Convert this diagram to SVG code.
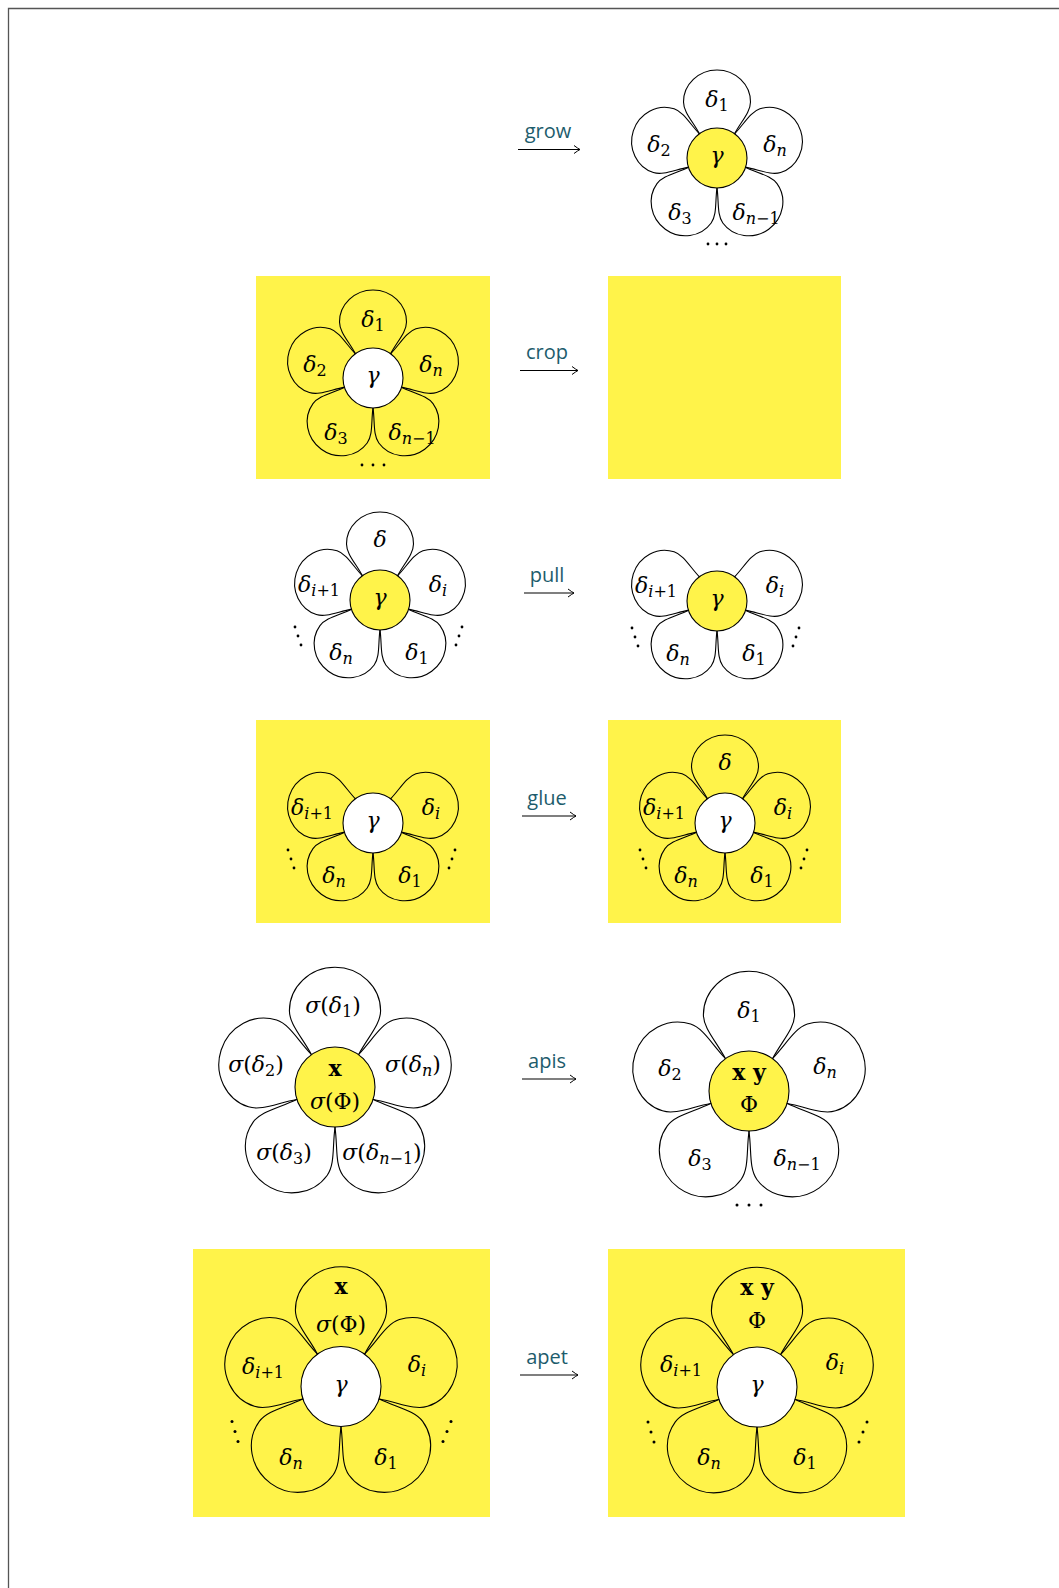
<svg xmlns="http://www.w3.org/2000/svg" xmlns:xlink="http://www.w3.org/1999/xlink" width="1059" height="1588" viewBox="0 0 1059 1588">
<style>
.bg{fill:#fff34a}
.pet{fill:none;stroke:#000;stroke-width:1.1}
.cy{fill:#fff34a;stroke:#000;stroke-width:1.1}
.cw{fill:#fff;stroke:#000;stroke-width:1.1}
.m{font-family:"DejaVu Serif",serif;font-style:italic;font-size:22px;fill:#000;text-anchor:middle}
.s{font-size:16px;font-style:normal}
.si{font-size:16px;font-style:italic}
.u{font-style:normal}
.b{font-style:normal;font-weight:bold}
.lbl{font-family:"Open Sans","Liberation Sans",sans-serif;font-size:20px;fill:#1d5c6c;text-anchor:middle}
.arr{stroke:#000;stroke-width:1.1;fill:none;marker-end:url(#to)}
.dot{fill:#000}
</style>
<defs>
<path id="ps" d="M-8.8 0L23.95 -17.4C36.3 -24 46 -33.5 56 -33.5C73.5 -33.5 88 -18.5 88 0C88 18.5 73.5 33.5 56 33.5C46 33.5 36.3 24 23.95 17.4Z"/>
<path id="pl" d="M-12 0L32.6 -23.7C49.4 -32.6 62.6 -45.6 76.2 -45.6C100 -45.6 119.7 -25.2 119.7 0C119.7 25.2 100 45.6 76.2 45.6C62.6 45.6 49.4 32.6 32.6 23.7Z"/>
<marker id="to" viewBox="0 0 8 10" refX="7" refY="5" markerWidth="8" markerHeight="10" markerUnits="userSpaceOnUse" orient="auto">
<path d="M1 1Q5 4 7 5Q5 6 1 9" fill="none" stroke="#000" stroke-width="1"/>
</marker>
<g id="sdotsL"><circle cx="-85" cy="27" r="1.4"/><circle cx="-82" cy="36" r="1.4"/><circle cx="-79" cy="45" r="1.4"/></g>
<g id="sdotsR"><circle cx="82" cy="27" r="1.4"/><circle cx="79" cy="36" r="1.4"/><circle cx="76" cy="45" r="1.4"/></g>
<g id="ldotsL"><circle cx="-109" cy="35" r="1.5"/><circle cx="-106" cy="45" r="1.5"/><circle cx="-103" cy="55" r="1.5"/></g>
<g id="ldotsR"><circle cx="110" cy="35" r="1.5"/><circle cx="106" cy="45" r="1.5"/><circle cx="102" cy="55" r="1.5"/></g>
</defs>

<path d="M8.5 1588V8.5H1059" fill="none" stroke="#555" stroke-width="1.3"/>

<g id="connectors">
<path class="arr" d="M518 149.5H580"/>
<text class="lbl" x="548" y="138">grow</text>
<path class="arr" d="M520 370.5H578"/>
<text class="lbl" x="547" y="359">crop</text>
<path class="arr" d="M524 593H574"/>
<text class="lbl" x="547" y="582">pull</text>
<path class="arr" d="M522 816H576"/>
<text class="lbl" x="547" y="805">glue</text>
<path class="arr" d="M522 1079H576"/>
<text class="lbl" x="547" y="1068">apis</text>
<path class="arr" d="M520 1375H578"/>
<text class="lbl" x="547" y="1364">apet</text>
</g>

<g id="grow-target" transform="translate(717,158)">
<use xlink:href="#ps" class="pet" transform="rotate(-90)"/>
<use xlink:href="#ps" class="pet" transform="rotate(-162)"/>
<use xlink:href="#ps" class="pet" transform="rotate(-18)"/>
<use xlink:href="#ps" class="pet" transform="rotate(126)"/>
<use xlink:href="#ps" class="pet" transform="rotate(54)"/>
<circle class="cy" r="30"/>
<text class="m" y="5">γ</text>
<text class="m" x="0" y="-51">δ<tspan class="s" dy="4">1</tspan></text>
<text class="m" x="-58" y="-6">δ<tspan class="s" dy="4">2</tspan></text>
<text class="m" x="58" y="-6">δ<tspan class="si" dy="4">n</tspan></text>
<text class="m" x="-37" y="62">δ<tspan class="s" dy="4">3</tspan></text>
<text class="m" x="39" y="62">δ<tspan class="si" dy="4">n</tspan><tspan class="s">−1</tspan></text>
<g class="dot"><circle cx="-9" cy="86" r="1.4"/><circle cx="0" cy="86" r="1.4"/><circle cx="9" cy="86" r="1.4"/></g>
</g>

<g id="crop-source">
<rect class="bg" x="256" y="276" width="234" height="203"/>
<g transform="translate(373,378)">
<use xlink:href="#ps" class="pet" transform="rotate(-90)"/>
<use xlink:href="#ps" class="pet" transform="rotate(-162)"/>
<use xlink:href="#ps" class="pet" transform="rotate(-18)"/>
<use xlink:href="#ps" class="pet" transform="rotate(126)"/>
<use xlink:href="#ps" class="pet" transform="rotate(54)"/>
<circle class="cw" r="30"/>
<text class="m" y="5">γ</text>
<text class="m" x="0" y="-51">δ<tspan class="s" dy="4">1</tspan></text>
<text class="m" x="-58" y="-6">δ<tspan class="s" dy="4">2</tspan></text>
<text class="m" x="58" y="-6">δ<tspan class="si" dy="4">n</tspan></text>
<text class="m" x="-37" y="62">δ<tspan class="s" dy="4">3</tspan></text>
<text class="m" x="39" y="62">δ<tspan class="si" dy="4">n</tspan><tspan class="s">−1</tspan></text>
<g class="dot"><circle cx="-11" cy="87" r="1.4"/><circle cx="0" cy="87" r="1.4"/><circle cx="11" cy="87" r="1.4"/></g>
</g>
</g>

<g id="crop-target">
<rect class="bg" x="608" y="276" width="233" height="203"/>
</g>

<g id="pull-source" transform="translate(380,600)">
<use xlink:href="#ps" class="pet" transform="rotate(-90)"/>
<use xlink:href="#ps" class="pet" transform="rotate(-162)"/>
<use xlink:href="#ps" class="pet" transform="rotate(-18)"/>
<use xlink:href="#ps" class="pet" transform="rotate(126)"/>
<use xlink:href="#ps" class="pet" transform="rotate(54)"/>
<circle class="cy" r="30"/>
<text class="m" y="5">γ</text>
<text class="m" x="0" y="-53">δ</text>
<text class="m" x="-61" y="-8">δ<tspan class="si" dy="4">i</tspan><tspan class="s">+1</tspan></text>
<text class="m" x="58" y="-8">δ<tspan class="si" dy="4">i</tspan></text>
<text class="m" x="-39" y="60">δ<tspan class="si" dy="4">n</tspan></text>
<text class="m" x="37" y="60">δ<tspan class="s" dy="4">1</tspan></text>
<use xlink:href="#sdotsL" class="dot"/><use xlink:href="#sdotsR" class="dot"/>
</g>

<g id="pull-target" transform="translate(717,601)">
<use xlink:href="#ps" class="pet" transform="rotate(-162)"/>
<use xlink:href="#ps" class="pet" transform="rotate(-18)"/>
<use xlink:href="#ps" class="pet" transform="rotate(126)"/>
<use xlink:href="#ps" class="pet" transform="rotate(54)"/>
<circle class="cy" r="30"/>
<text class="m" y="5">γ</text>
<text class="m" x="-61" y="-8">δ<tspan class="si" dy="4">i</tspan><tspan class="s">+1</tspan></text>
<text class="m" x="58" y="-8">δ<tspan class="si" dy="4">i</tspan></text>
<text class="m" x="-39" y="60">δ<tspan class="si" dy="4">n</tspan></text>
<text class="m" x="37" y="60">δ<tspan class="s" dy="4">1</tspan></text>
<use xlink:href="#sdotsL" class="dot"/><use xlink:href="#sdotsR" class="dot"/>
</g>

<g id="glue-source">
<rect class="bg" x="256" y="720" width="234" height="203"/>
<g transform="translate(373,823)">
<use xlink:href="#ps" class="pet" transform="rotate(-162)"/>
<use xlink:href="#ps" class="pet" transform="rotate(-18)"/>
<use xlink:href="#ps" class="pet" transform="rotate(126)"/>
<use xlink:href="#ps" class="pet" transform="rotate(54)"/>
<circle class="cw" r="30"/>
<text class="m" y="5">γ</text>
<text class="m" x="-61" y="-8">δ<tspan class="si" dy="4">i</tspan><tspan class="s">+1</tspan></text>
<text class="m" x="58" y="-8">δ<tspan class="si" dy="4">i</tspan></text>
<text class="m" x="-39" y="60">δ<tspan class="si" dy="4">n</tspan></text>
<text class="m" x="37" y="60">δ<tspan class="s" dy="4">1</tspan></text>
<use xlink:href="#sdotsL" class="dot"/><use xlink:href="#sdotsR" class="dot"/>
</g>
</g>

<g id="glue-target">
<rect class="bg" x="608" y="720" width="233" height="203"/>
<g transform="translate(725,823)">
<use xlink:href="#ps" class="pet" transform="rotate(-90)"/>
<use xlink:href="#ps" class="pet" transform="rotate(-162)"/>
<use xlink:href="#ps" class="pet" transform="rotate(-18)"/>
<use xlink:href="#ps" class="pet" transform="rotate(126)"/>
<use xlink:href="#ps" class="pet" transform="rotate(54)"/>
<circle class="cw" r="30"/>
<text class="m" y="5">γ</text>
<text class="m" x="0" y="-53">δ</text>
<text class="m" x="-61" y="-8">δ<tspan class="si" dy="4">i</tspan><tspan class="s">+1</tspan></text>
<text class="m" x="58" y="-8">δ<tspan class="si" dy="4">i</tspan></text>
<text class="m" x="-39" y="60">δ<tspan class="si" dy="4">n</tspan></text>
<text class="m" x="37" y="60">δ<tspan class="s" dy="4">1</tspan></text>
<use xlink:href="#sdotsL" class="dot"/><use xlink:href="#sdotsR" class="dot"/>
</g>
</g>

<g id="apis-source" transform="translate(335,1087)">
<use xlink:href="#pl" class="pet" transform="rotate(-90)"/>
<use xlink:href="#pl" class="pet" transform="rotate(-162)"/>
<use xlink:href="#pl" class="pet" transform="rotate(-18)"/>
<use xlink:href="#pl" class="pet" transform="rotate(126)"/>
<use xlink:href="#pl" class="pet" transform="rotate(54)"/>
<circle class="cy" r="40"/>
<text class="m" y="-11"><tspan class="b">x</tspan></text>
<text class="m" y="22">σ<tspan class="u">(Φ)</tspan></text>
<text class="m" x="-2" y="-74">σ<tspan class="u">(</tspan>δ<tspan class="s" dy="4">1</tspan><tspan class="u" dy="-4">)</tspan></text>
<text class="m" x="-79" y="-15">σ<tspan class="u">(</tspan>δ<tspan class="s" dy="4">2</tspan><tspan class="u" dy="-4">)</tspan></text>
<text class="m" x="78" y="-15">σ<tspan class="u">(</tspan>δ<tspan class="si" dy="4">n</tspan><tspan class="u" dy="-4">)</tspan></text>
<text class="m" x="-51" y="73">σ<tspan class="u">(</tspan>δ<tspan class="s" dy="4">3</tspan><tspan class="u" dy="-4">)</tspan></text>
<text class="m" x="47" y="73">σ<tspan class="u">(</tspan>δ<tspan class="si" dy="4">n</tspan><tspan class="s">−1</tspan><tspan class="u" dy="-4">)</tspan></text>
</g>

<g id="apis-target" transform="translate(749,1091)">
<use xlink:href="#pl" class="pet" transform="rotate(-90)"/>
<use xlink:href="#pl" class="pet" transform="rotate(-162)"/>
<use xlink:href="#pl" class="pet" transform="rotate(-18)"/>
<use xlink:href="#pl" class="pet" transform="rotate(126)"/>
<use xlink:href="#pl" class="pet" transform="rotate(54)"/>
<circle class="cy" r="40"/>
<text class="m" y="-11"><tspan class="b">x y</tspan></text>
<text class="m" y="21"><tspan class="u">Φ</tspan></text>
<text class="m" x="0" y="-73">δ<tspan class="s" dy="4">1</tspan></text>
<text class="m" x="-79" y="-15">δ<tspan class="s" dy="4">2</tspan></text>
<text class="m" x="76" y="-17">δ<tspan class="si" dy="4">n</tspan></text>
<text class="m" x="-49" y="75">δ<tspan class="s" dy="4">3</tspan></text>
<text class="m" x="48" y="75">δ<tspan class="si" dy="4">n</tspan><tspan class="s">−1</tspan></text>
<g class="dot"><circle cx="-12" cy="114" r="1.5"/><circle cx="0" cy="114" r="1.5"/><circle cx="12" cy="114" r="1.5"/></g>
</g>

<g id="apet-source">
<rect class="bg" x="193" y="1249" width="297" height="268"/>
<g transform="translate(341,1386.5)">
<use xlink:href="#pl" class="pet" transform="rotate(-90)"/>
<use xlink:href="#pl" class="pet" transform="rotate(-162)"/>
<use xlink:href="#pl" class="pet" transform="rotate(-18)"/>
<use xlink:href="#pl" class="pet" transform="rotate(126)"/>
<use xlink:href="#pl" class="pet" transform="rotate(54)"/>
<circle class="cw" r="40"/>
<text class="m" y="5">γ</text>
<text class="m" y="-93"><tspan class="b">x</tspan></text>
<text class="m" y="-55">σ<tspan class="u">(Φ)</tspan></text>
<text class="m" x="-78" y="-13">δ<tspan class="si" dy="4">i</tspan><tspan class="s">+1</tspan></text>
<text class="m" x="76" y="-15">δ<tspan class="si" dy="4">i</tspan></text>
<text class="m" x="-50" y="78">δ<tspan class="si" dy="4">n</tspan></text>
<text class="m" x="45" y="78">δ<tspan class="s" dy="4">1</tspan></text>
<use xlink:href="#ldotsL" class="dot"/><use xlink:href="#ldotsR" class="dot"/>
</g>
</g>

<g id="apet-target">
<rect class="bg" x="608" y="1249" width="297" height="268"/>
<g transform="translate(757,1387)">
<use xlink:href="#pl" class="pet" transform="rotate(-90)"/>
<use xlink:href="#pl" class="pet" transform="rotate(-162)"/>
<use xlink:href="#pl" class="pet" transform="rotate(-18)"/>
<use xlink:href="#pl" class="pet" transform="rotate(126)"/>
<use xlink:href="#pl" class="pet" transform="rotate(54)"/>
<circle class="cw" r="40"/>
<text class="m" y="5">γ</text>
<text class="m" y="-92"><tspan class="b">x y</tspan></text>
<text class="m" y="-59"><tspan class="u">Φ</tspan></text>
<text class="m" x="-76" y="-15">δ<tspan class="si" dy="4">i</tspan><tspan class="s">+1</tspan></text>
<text class="m" x="78" y="-17">δ<tspan class="si" dy="4">i</tspan></text>
<text class="m" x="-48" y="78">δ<tspan class="si" dy="4">n</tspan></text>
<text class="m" x="48" y="78">δ<tspan class="s" dy="4">1</tspan></text>
<use xlink:href="#ldotsL" class="dot"/><use xlink:href="#ldotsR" class="dot"/>
</g>
</g>
</svg>
